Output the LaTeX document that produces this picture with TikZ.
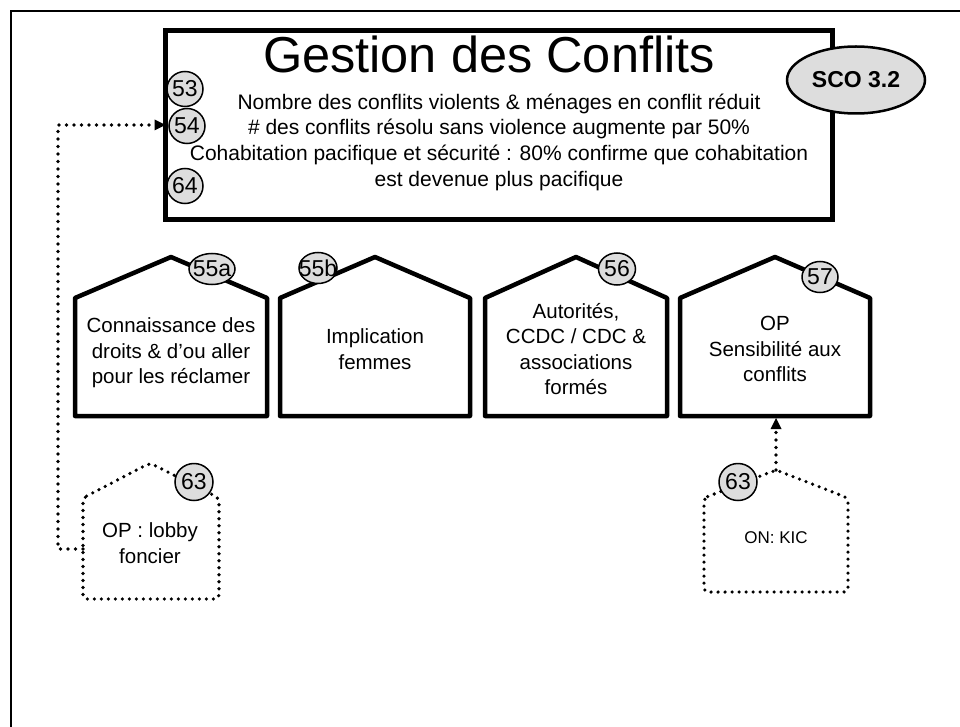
\documentclass[tikz,border=0pt]{standalone}
\usepackage{fontspec}
\setmainfont{Liberation Sans}
\usetikzlibrary{arrows.meta,shapes.geometric}
\definecolor{badgegray}{RGB}{221,221,221}
\begin{document}
\begin{tikzpicture}[x=1pt,y=-1pt,
  every node/.style={inner sep=0pt,outer sep=0pt},
  house/.style={draw,line width=4.5pt,line join=round},
  dothouse/.style={draw,line width=3.6pt,line cap=round,dash pattern=on 0pt off 7pt,rounded corners=4pt},
  dotlink/.style={line width=3.6pt,line cap=round,dash pattern=on 0pt off 7.5pt,
    -{Triangle[width=11pt,length=11pt,line width=0pt]}},
  badge/.style={ellipse,draw,line width=1.5pt,fill=badgegray,inner sep=-10pt,
    minimum width=36pt,minimum height=35pt,font=\fontsize{23}{23}\selectfont},
  housetext/.style={align=center,font=\fontsize{20.5}{25.5}\selectfont}]
\useasboundingbox (0,0) rectangle (960,727);

% page frame (top and left edges only)
\draw[line width=2pt] (960,11) -- (11,11) -- (11,727);

% goal box
\node[draw,line width=5.5pt,minimum width=667pt,minimum height=189pt] (goal) at (499,125) {};
\node[font=\fontsize{50.5}{50.5}\selectfont,anchor=base] (title) at (489,73) {Gestion des Conflits};
\node[align=center,font=\fontsize{21}{25.7}\selectfont] (goaltext) at (499,142)
  {Nombre des conflits violents \& ménages en conflit réduit\\
   \# des conflits résolu sans violence augmente par 50\%\\
   Cohabitation pacifique et sécurité : 80\% confirme que cohabitation\\
   est devenue plus pacifique};
\node[badge] (b53) at (185,89) {53};
\node[badge] (b54) at (187,126) {54};
\node[badge] (b64) at (185,186) {64};
\node[ellipse,draw,line width=2.5pt,fill=badgegray,inner sep=-10pt,
  minimum width=138pt,minimum height=67pt,
  font=\bfseries\fontsize{23}{23}\selectfont] (sco) at (856,80) {SCO 3.2};

% output houses
\draw[house] (75,298) -- (171,257) -- (267,298) -- (267,416) -- (75,416) -- cycle;
\draw[house] (280,298) -- (375,257) -- (470,298) -- (470,416) -- (280,416) -- cycle;
\draw[house] (485,298) -- (576,257) -- (667,298) -- (667,416) -- (485,416) -- cycle;
\draw[house] (680,298) -- (775,257) -- (870,298) -- (870,416) -- (680,416) -- cycle;
\coordinate (h4b) at (776,418);

\node[housetext] (t1) at (171,353) {Connaissance des\\droits \& d’ou aller\\pour les réclamer};
\node[housetext] (t2) at (375,349) {Implication\\femmes};
\node[housetext] (t3) at (576,349) {Autorités,\\CCDC / CDC \&\\associations\\formés};
\node[housetext] (t4) at (775,349) {OP\\Sensibilité aux\\conflits};

\node[badge,minimum width=46pt,minimum height=31pt] (b55a) at (212,269) {55a};
\node[badge,minimum width=38pt,minimum height=31pt] (b55b) at (318,268) {55b};
\node[badge,minimum width=37pt,minimum height=32pt] (b56) at (617,269) {56};
\node[badge,minimum width=36pt,minimum height=31pt] (b57) at (820,277) {57};

% supporting houses (dotted)
\draw[dothouse] (83,498) -- (150,463) -- (219,498) -- (219,599) -- (83,599) -- cycle;
\coordinate (h5w) at (83,549);
\node[housetext] (t5) at (150,543) {OP : lobby\\foncier};
\node[badge,minimum width=38pt,minimum height=37pt] (b63a) at (194,482) {63};

\draw[dothouse] (704,498) -- (776,470) -- (848,498) -- (848,592) -- (704,592) -- cycle;
\coordinate (h6p) at (776,470);
\node[font=\fontsize{17}{17}\selectfont] (t6) at (776,538) {ON: KIC};
\node[badge,minimum width=38pt,minimum height=37pt] (b63b) at (738,482) {63};

% links
\draw[dotlink] (h5w) -- (58,549) -- (58,125) -- (goal.west);
\draw[dotlink] (h6p) -- (h4b);
\end{tikzpicture}
\end{document}
